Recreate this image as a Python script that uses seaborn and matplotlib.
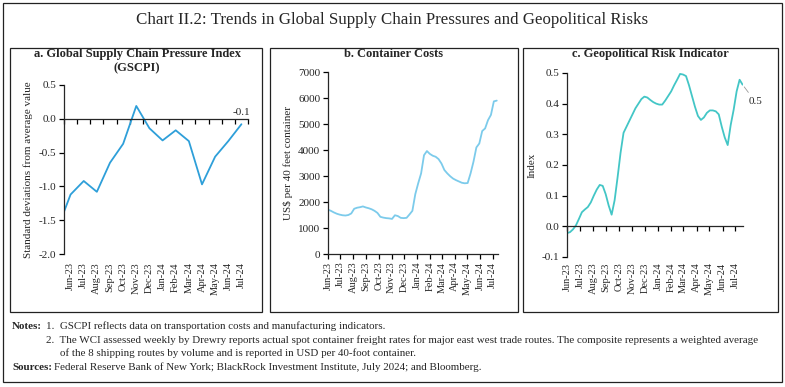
import numpy as np
import pandas as pd
import seaborn as sns
import matplotlib.pyplot as plt
import matplotlib.dates as mdates
from matplotlib.patches import Rectangle

# a. GSCPI, monthly (May-23 only feeds the clipped start of the line)
gscpi_months = ['May-23', 'Jun-23', 'Jul-23', 'Aug-23', 'Sep-23', 'Oct-23', 'Nov-23', 'Dec-23',
                'Jan-24', 'Feb-24', 'Mar-24', 'Apr-24', 'May-24', 'Jun-24', 'Jul-24']
gscpi = [-1.63, -1.12, -0.92, -1.08, -0.65, -0.37, 0.19, -0.14,
         -0.32, -0.17, -0.33, -0.97, -0.56, -0.33, -0.08]

# b. Drewry WCI composite, weekly from 1 Jun 2023
wci_start = '2023-06-01'
wci = [1707, 1660, 1600, 1550, 1515, 1490, 1480, 1500, 1560, 1740,
       1780, 1800, 1830, 1790, 1760, 1720, 1660, 1580, 1430, 1400,
       1380, 1370, 1350, 1490, 1460, 1390, 1380, 1390, 1520, 1660,
       2300, 2720, 3100, 3800, 3960, 3850, 3780, 3740, 3650, 3480,
       3230, 3100, 2990, 2900, 2840, 2790, 2740, 2720, 2730, 3100,
       3550, 4100, 4250, 4730, 4830, 5150, 5350, 5870, 5900]

# c. BlackRock geopolitical risk indicator, weekly from 1 Jun 2023
gri_start = '2023-06-01'
gri = [-0.022, -0.019, -0.010, 0.003, 0.024, 0.046, 0.055, 0.063, 0.078, 0.100,
       0.120, 0.135, 0.132, 0.105, 0.068, 0.038, 0.085, 0.160, 0.240, 0.305,
       0.325, 0.345, 0.365, 0.385, 0.400, 0.415, 0.423, 0.420, 0.412, 0.405,
       0.400, 0.397, 0.397, 0.410, 0.425, 0.440, 0.460, 0.478, 0.497, 0.495,
       0.490, 0.460, 0.425, 0.390, 0.360, 0.347, 0.355, 0.370, 0.378, 0.378,
       0.375, 0.365, 0.325, 0.290, 0.265, 0.330, 0.380, 0.440, 0.478, 0.462]

tick_months = pd.date_range('2023-06-01', '2024-07-01', freq='MS')
tick_labels = [d.strftime('%b-%y') for d in tick_months]

sns.set_style('ticks')
plt.rcParams['font.family'] = ['Liberation Serif', 'DejaVu Serif']
plt.rcParams['axes.linewidth'] = 0.9

W, H = 785, 387
fig = plt.figure(figsize=(W / 100, H / 100), dpi=100)


def box(x0, y0, x1, y1, lw=0.9):
    fig.add_artist(Rectangle((x0 / W, 1 - y1 / H), (x1 - x0) / W, (y1 - y0) / H,
                             transform=fig.transFigure, fill=False, lw=lw, ec='#222222'))


def rect(x0, y0, x1, y1):
    return [x0 / W, 1 - y1 / H, (x1 - x0) / W, (y1 - y0) / H]


box(3, 3, 782, 382)
box(10, 48, 262, 312)
box(270, 48, 518, 312)
box(523, 48, 778, 312)

fig.text(392 / W, 1 - 20 / H, 'Chart II.2: Trends in Global Supply Chain Pressures and Geopolitical Risks',
         ha='center', va='center', fontsize=12.2)


def style(ax):
    sns.despine(ax=ax)
    ax.tick_params(axis='both', labelsize=8, length=3.5, width=0.9, color='black', pad=2)


# ---- panel a
ax1 = fig.add_axes(rect(64, 85, 248, 254))
xa = np.arange(len(gscpi)) - 1
sns.lineplot(x=xa, y=gscpi, ax=ax1, color='#2e9fd9', lw=1.3)
ax1.set_xlim(-0.5, len(gscpi) - 1.5)
ax1.set_ylim(-2.0, 0.5)
ax1.set_yticks(np.arange(-2.0, 0.51, 0.5))
ax1.set_yticklabels([f'{v:.1f}' for v in np.arange(-2.0, 0.51, 0.5)])
style(ax1)
ax1.spines['bottom'].set_position(('data', 0))
ax1.set_xticks(np.arange(-0.5, len(gscpi) - 1, 1.0))
ax1.set_xticklabels([])
ax1.set_xlabel('')
sec1 = ax1.secondary_xaxis('bottom')
sec1.set_xticks(xa[1:])
sec1.set_xticklabels(gscpi_months[1:], rotation=90, fontsize=7.5)
sec1.tick_params(length=0, pad=6)
sec1.spines['bottom'].set_visible(False)
ax1.set_ylabel('Standard deviations from average value', fontsize=8, labelpad=4)
ax1.text(xa[-1], 0.02, f'{gscpi[-1]:.1f}', ha='center', va='bottom', fontsize=8)
fig.text(137 / W, 1 - 54 / H, 'a. Global Supply Chain Pressure Index', ha='center', va='center',
         fontsize=9, fontweight='bold')
fig.text(137 / W, 1 - 68 / H, '(GSCPI)', ha='center', va='center', fontsize=9, fontweight='bold')

# ---- panel b
ax2 = fig.add_axes(rect(328, 72, 498, 254))
wci_dates = pd.date_range(wci_start, periods=len(wci), freq='7D')
sns.lineplot(x=wci_dates, y=wci, ax=ax2, color='#7ccbeb', lw=1.3)
ax2.set_xlim(pd.Timestamp('2023-06-01'), pd.Timestamp('2024-07-14'))
ax2.set_ylim(0, 7000)
ax2.set_yticks(range(0, 7001, 1000))
style(ax2)
ax2.set_xticks(tick_months)
ax2.set_xticklabels(tick_labels, rotation=90, fontsize=7.5)
ax2.set_xlabel('')
ax2.set_ylabel('US$ per 40 feet container', fontsize=8, labelpad=4)
fig.text(394 / W, 1 - 54 / H, 'b. Container Costs', ha='center', va='center',
         fontsize=9, fontweight='bold')

# ---- panel c
ax3 = fig.add_axes(rect(567, 73, 743, 257))
gri_dates = pd.date_range(gri_start, periods=len(gri), freq='7D')
sns.lineplot(x=gri_dates, y=gri, ax=ax3, color='#43c6c6', lw=1.3)
ax3.set_xlim(pd.Timestamp('2023-06-01'), gri_dates[-1] + pd.Timedelta(days=1))
ax3.set_ylim(-0.1, 0.5)
ax3.set_yticks(np.arange(-0.1, 0.51, 0.1))
ax3.set_yticklabels([f'{v:.1f}' for v in np.arange(-0.1, 0.51, 0.1)])
style(ax3)
ax3.spines['bottom'].set_position(('data', 0))
ax3.set_xticks(tick_months)
ax3.set_xticklabels([])
ax3.set_xlabel('')
sec3 = ax3.secondary_xaxis('bottom')
sec3.set_xticks(mdates.date2num(tick_months))
sec3.set_xticklabels(tick_labels, rotation=90, fontsize=7.5)
sec3.tick_params(length=0, pad=4)
sec3.spines['bottom'].set_visible(False)
ax3.set_ylabel('Index', fontsize=8, labelpad=4)
ax3.annotate(f'{gri[-1]:.1f}', xy=(gri_dates[-1], gri[-1]), xytext=(4, -12),
             textcoords='offset points', fontsize=8, va='center', ha='left', clip_on=False,
             arrowprops=dict(arrowstyle='-', color='#999999', lw=0.6, shrinkA=1, shrinkB=2))
fig.text(650 / W, 1 - 54 / H, 'c. Geopolitical Risk Indicator', ha='center', va='center',
         fontsize=9, fontweight='bold')

# ---- notes
fs = 7.9
fig.text(12 / W, 1 - 329 / H, 'Notes:', fontsize=fs, fontweight='bold', va='baseline')
fig.text(46 / W, 1 - 329 / H, '1.  GSCPI reflects data on transportation costs and manufacturing indicators.',
         fontsize=fs, va='baseline')
fig.text(46 / W, 1 - 343 / H, '2.  The WCI assessed weekly by Drewry reports actual spot container freight rates '
         'for major east west trade routes. The composite represents a weighted average',
         fontsize=fs, va='baseline')
fig.text(60 / W, 1 - 356 / H, 'of the 8 shipping routes by volume and is reported in USD per 40-foot container.',
         fontsize=fs, va='baseline')
fig.text(12 / W, 1 - 370 / H, 'Sources:', fontsize=fs, fontweight='bold', va='baseline')
fig.text(54 / W, 1 - 370 / H, 'Federal Reserve Bank of New York; BlackRock Investment Institute, July 2024; '
         'and Bloomberg.', fontsize=fs, va='baseline')

fig.savefig('out.png', dpi=100)
